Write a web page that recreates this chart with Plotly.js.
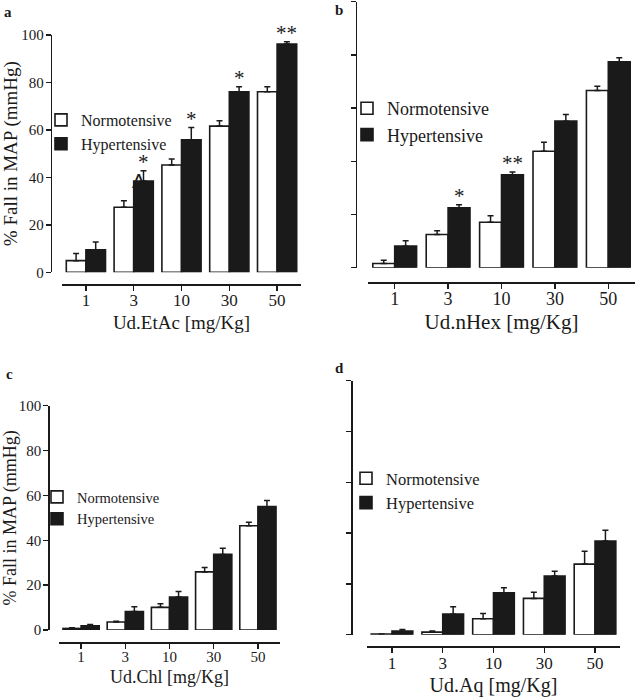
<!DOCTYPE html>
<html>
<head>
<meta charset="utf-8">
<script src="https://cdn.plot.ly/plotly-3.0.1.min.js"></script>
<style>html,body{margin:0;padding:0;background:#fff;}#chart{width:638px;height:700px;}</style>
</head>
<body>
<div id="chart"></div>
<script>
// ---- data ----
const doses = ['1', '3', '10', '30', '50'];
const seriesNames = ['Normotensive', 'Hypertensive'];

const etacNorm    = [4.9, 27.4, 45.2, 61.6, 76.1];
const etacNormErr = [3.0, 2.8, 2.5, 2.3, 2.1];
const etacHyp     = [9.5, 38.5, 55.8, 76.1, 96.2];
const etacHypErr  = [3.3, 4.3, 5.2, 2.1, 1.0];
const etacSig     = ['', '*', '*', '*', '**'];

const nhexNorm    = [1.6, 12.5, 17.1, 43.8, 66.6];
const nhexNormErr = [1.2, 1.4, 2.4, 3.4, 1.6];
const nhexHyp     = [8.1, 22.5, 34.9, 55.1, 77.4];
const nhexHypErr  = [2.0, 1.2, 1.1, 2.5, 1.5];
const nhexSig     = ['', '*', '**', '', ''];

const chlNorm     = [0.7, 3.6, 10.1, 25.9, 46.5];
const chlNormErr  = [0.3, 0.3, 1.6, 2.0, 1.5];
const chlHyp      = [1.9, 8.2, 14.7, 33.7, 55.0];
const chlHypErr   = [0.5, 2.2, 2.5, 2.7, 2.7];

const aqNorm      = [0.3, 1.0, 6.3, 14.3, 27.8];
const aqNormErr   = [0.0, 0.5, 2.0, 2.4, 5.1];
const aqHyp       = [1.4, 8.1, 16.5, 23.1, 36.9];
const aqHypErr    = [0.6, 2.9, 2.0, 1.9, 4.2];

const xTitles = ['Ud.EtAc [mg/Kg]', 'Ud.nHex [mg/Kg]', 'Ud.Chl [mg/Kg]', 'Ud.Aq [mg/Kg]'];
const yTitle = '% Fall in MAP (mmHg)';
const panelLetters = ['a', 'b', 'c', 'd'];

// ---- layout geometry (pixels in a 638x700 page) ----
const W = 638, H = 700;
const BARGAP = 0.18;
const panels = [
  {x0: 62,  x1: 301, yTop: 35,    yBot: 272.3, yAxisX: 50.7,  xAxisY: 285,   labels: true,
   norm: etacNorm, normErr: etacNormErr, hyp: etacHyp, hypErr: etacHypErr, sig: etacSig,
   legX: 41, legY: 103, letter: [8, 12], tick: 17, ytick: 15, title: 19, leg: 16, standoff: 5},
  {x0: 368, x1: 635, yTop: 1.7,   yBot: 267.7, yAxisX: 355.7, xAxisY: 282.7, labels: false,
   norm: nhexNorm, normErr: nhexNormErr, hyp: nhexHyp, hypErr: nhexHypErr, sig: nhexSig,
   legX: 347, legY: 90, letter: [339, 10], tick: 18, ytick: 15, title: 21, leg: 18, standoff: 5},
  {x0: 59,  x1: 280, yTop: 405.7, yBot: 630,   yAxisX: 48.3,  xAxisY: 642.7, labels: true,
   norm: chlNorm, normErr: chlNormErr, hyp: chlHyp, hypErr: chlHypErr, sig: null,
   legX: 37, legY: 481, letter: [9, 374], tick: 15, ytick: 15, title: 18, leg: 14.5, standoff: 6},
  {x0: 366.6, x1: 620.4, yTop: 380.7, yBot: 634.7, yAxisX: 351.3, xAxisY: 647.3, labels: false,
   norm: aqNorm, normErr: aqNormErr, hyp: aqHyp, hypErr: aqHypErr, sig: null,
   legX: 346, legY: 461, letter: [339, 368], tick: 17, ytick: 15, title: 20, leg: 16.5, standoff: 5}
];

const serif = 'Liberation Serif, Times New Roman, serif';
const ink = '#1a1a1a';
const data = [];
const annotations = [];
const layout = {
  width: W, height: H,
  margin: {l: 0, r: 0, t: 0, b: 0},
  paper_bgcolor: '#fff', plot_bgcolor: 'rgba(0,0,0,0)',
  barmode: 'group', bargap: BARGAP, bargroupgap: 0,
  font: {family: serif, size: 16, color: ink},
  annotations: annotations,
  showlegend: true
};

panels.forEach((p, i) => {
  const n = i + 1;
  const sfx = n === 1 ? '' : String(n);
  const xa = 'x' + sfx, ya = 'y' + sfx;
  const legName = 'legend' + sfx;
  const errStyle = {type: 'data', symmetric: false, color: ink, thickness: 1.5, width: 3};
  data.push({
    type: 'bar', name: seriesNames[0], x: doses, y: p.norm,
    xaxis: xa, yaxis: ya, legend: legName,
    marker: {color: '#ffffff', line: {color: ink, width: 1.6}},
    error_y: Object.assign({array: p.normErr, arrayminus: p.normErr.map(() => 0)}, errStyle),
    hoverinfo: 'x+y'
  });
  data.push({
    type: 'bar', name: seriesNames[1], x: doses, y: p.hyp,
    xaxis: xa, yaxis: ya, legend: legName,
    marker: {color: ink, line: {color: ink, width: 1.6}},
    error_y: Object.assign({array: p.hypErr, arrayminus: p.hypErr.map(() => 0)}, errStyle),
    hoverinfo: 'x+y'
  });

  layout['xaxis' + sfx] = {
    type: 'category', categoryorder: 'array', categoryarray: doses,
    domain: [p.x0 / W, p.x1 / W], anchor: 'free', position: 1 - p.xAxisY / H,
    range: [-0.5, 4.5], fixedrange: true,
    showline: true, linecolor: ink, linewidth: 2,
    ticks: 'outside', ticklen: 5, tickwidth: 1.5, tickcolor: ink,
    ticklabelstandoff: -5,
    showgrid: false, zeroline: false,
    tickfont: {family: serif, size: p.tick, color: ink},
    title: {text: xTitles[i], font: {family: serif, size: p.title, color: ink}, standoff: p.standoff}
  };
  layout['yaxis' + sfx] = {
    domain: [1 - p.yBot / H, 1 - p.yTop / H], anchor: 'free', position: p.yAxisX / W,
    range: [0, 100], tickvals: [0, 20, 40, 60, 80, 100], fixedrange: true,
    showline: true, linecolor: ink, linewidth: 1.5,
    ticks: 'outside', ticklen: 5, tickwidth: 1.5, tickcolor: ink,
    ticklabelstandoff: -1,
    showgrid: false, zeroline: false,
    showticklabels: p.labels,
    tickfont: {family: serif, size: p.ytick, color: ink},
    title: p.labels ? {text: yTitle, font: {family: serif, size: p.title, color: ink}, standoff: 5} : {text: ''}
  };
  layout[legName] = {
    x: p.legX / W, y: 1 - p.legY / H, xanchor: 'left', yanchor: 'top',
    bgcolor: 'rgba(0,0,0,0)', borderwidth: 0,
    font: {family: serif, size: p.leg, color: ink},
    tracegroupgap: 0, itemclick: false, itemdoubleclick: false
  };

  // significance marks above the hypertensive bars (second bar of each group)
  if (p.sig) {
    const barOffset = (1 - BARGAP) / 4;
    p.sig.forEach((s, k) => {
      if (!s) return;
      annotations.push({
        xref: xa, yref: ya, x: k + barOffset, y: p.hyp[k] + p.hypErr[k],
        yshift: -5, yanchor: 'bottom', showarrow: false, text: s,
        font: {family: serif, size: 21, color: ink}
      });
    });
  }
  // panel letter
  annotations.push({
    xref: 'paper', yref: 'paper', x: p.letter[0] / W, y: 1 - p.letter[1] / H,
    xanchor: 'center', yanchor: 'middle', showarrow: false,
    text: '<b>' + panelLetters[i] + '</b>', font: {family: serif, size: 15, color: ink}
  });
});

// stray "A" glyph visible over the 3 mg/Kg hypertensive bar of panel a
annotations.push({
  xref: 'x', yref: 'y', x: 1 + (1 - BARGAP) / 4 - 0.1, y: etacHyp[1],
  yanchor: 'middle', showarrow: false, text: 'A',
  font: {family: 'Liberation Sans, Arial, sans-serif', size: 20, color: ink}
});

Plotly.newPlot('chart', data, layout, {staticPlot: true, displayModeBar: false});
</script>
</body>
</html>
